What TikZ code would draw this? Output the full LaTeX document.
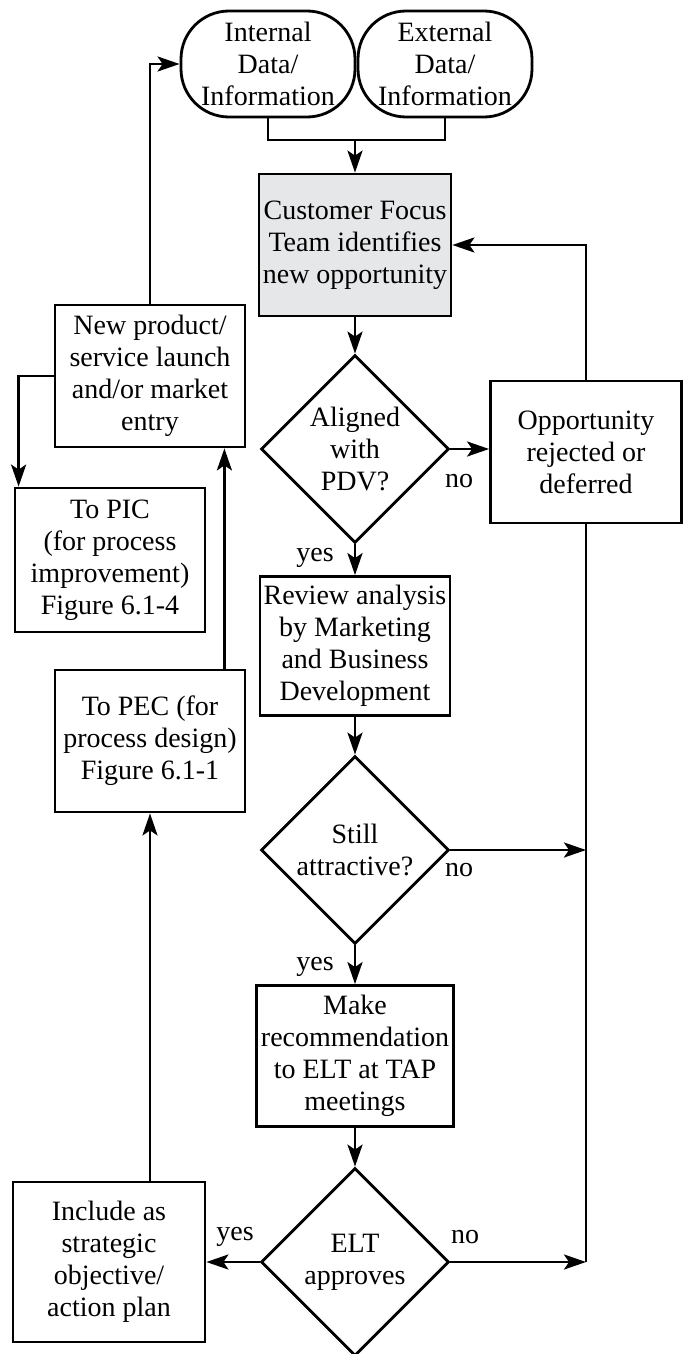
\documentclass[tikz,border=0pt]{standalone}
\usepackage{fontspec}
\setmainfont{Liberation Serif}
\usetikzlibrary{shapes.geometric, arrows.meta, positioning}

\definecolor{focusgray}{HTML}{E6E7E8}
\tikzset{
  base/.style={draw, line width=1.4pt, align=center, inner sep=0pt,
    font=\fontsize{14}{16}\selectfont},
  procbox/.style={base, rectangle, minimum width=95pt, minimum height=71pt},
  databox/.style={base, rectangle, rounded corners=24pt, minimum width=87pt, minimum height=53pt},
  decision/.style={base, diamond, aspect=1, minimum width=94pt, minimum height=94pt},
  answer/.style={font=\fontsize{14}{16}\selectfont, inner sep=0pt},
  flow/.style={line width=1.4pt, -{Stealth[length=11pt, width=7.5pt, inset=2.5pt]}},
  line/.style={line width=1.4pt}
}

\begin{document}
\begin{tikzpicture}[x=0.5pt, y=-0.5pt]
    \useasboundingbox (0,0) rectangle (683,1354);
    % inputs
    \node[databox] (int) at (268,64) {Internal\\Data/\\Information};
    \node[databox] (ext) at (445,64) {External\\Data/\\Information};
    \coordinate (join) at (355,140);
    % main column
    \node[procbox, fill=focusgray, minimum width=96pt] (cust) at (355,245) {Customer Focus\\Team identifies\\new opportunity};
    \node[decision] (d1) at (355,449) {Aligned\\with\\PDV?};
    \node[procbox, minimum height=69.5pt] (rev) at (355,646) {Review analysis\\by Marketing\\and Business\\Development};
    \node[decision] (d2) at (355,850) {Still\\attractive?};
    \node[procbox, minimum width=98.5pt, minimum height=70.5pt] (make) at (355,1056) {Make\\recommendation\\to ELT at TAP\\meetings};
    \node[decision] (d3) at (355,1262) {ELT\\approves};
    % right side
    \node[procbox, minimum width=95.5pt] (opp) at (586,452) {Opportunity\\rejected or\\deferred};
    \coordinate (rbot) at (opp.south |- d3.east);
    % left side
    \node[procbox, minimum width=96pt, minimum height=80pt] (inc) at (109,1262) {Include as\\strategic\\objective/\\action plan};
    \node[procbox] (pec) at (150,741) {To PEC (for\\process design)\\Figure 6.1-1};
    \node[procbox] (np) at (150,376) {New product/\\service launch\\and/or market\\entry};
    \node[procbox, minimum height=72pt] (pic) at (110,560) {To PIC\\(for process\\improvement)\\Figure 6.1-4};

    % connectors
    \draw[line] (int.south) |- (join) -| (ext.south);
    \draw[flow] (join) -- (cust.north);
    \draw[flow] (cust.south) -- (d1.north);
    \draw[flow] (d1.east) -- (d1.east -| opp.west);
    \draw[flow] (opp.north) |- (cust.east);
    \draw[flow] (d1.south) -- (rev.north);
    \draw[flow] (rev.south) -- (d2.north);
    \draw[flow] (d2.east) -- (opp.south |- d2.east);
    \draw[line] (opp.south) -- (rbot);
    \draw[flow] (d2.south) -- (make.north);
    \draw[flow] (make.south) -- (d3.north);
    \draw[flow] (d3.east) -- (rbot);
    \draw[flow] (d3.west) -- (inc.east);
    \draw[flow] (pec.south |- inc.north) -- (pec.south);
    \draw[flow] ([xshift=-11pt]pec.north east) -- ([xshift=-11pt]np.south east);
    \draw[flow] (np.north) |- (int.west);
    \draw[flow] (np.west) -| ([xshift=2.5pt]pic.north west);

    % answers
    \node[answer] (no1) at (459,481) {no};
    \node[answer] (yes1) at (315,558) {yes};
    \node[answer] (no2) at (459,870) {no};
    \node[answer] (yes2) at (315,967) {yes};
    \node[answer] (no3) at (465,1237) {no};
    \node[answer] (yes3) at (235,1237) {yes};
\end{tikzpicture}
\end{document}
